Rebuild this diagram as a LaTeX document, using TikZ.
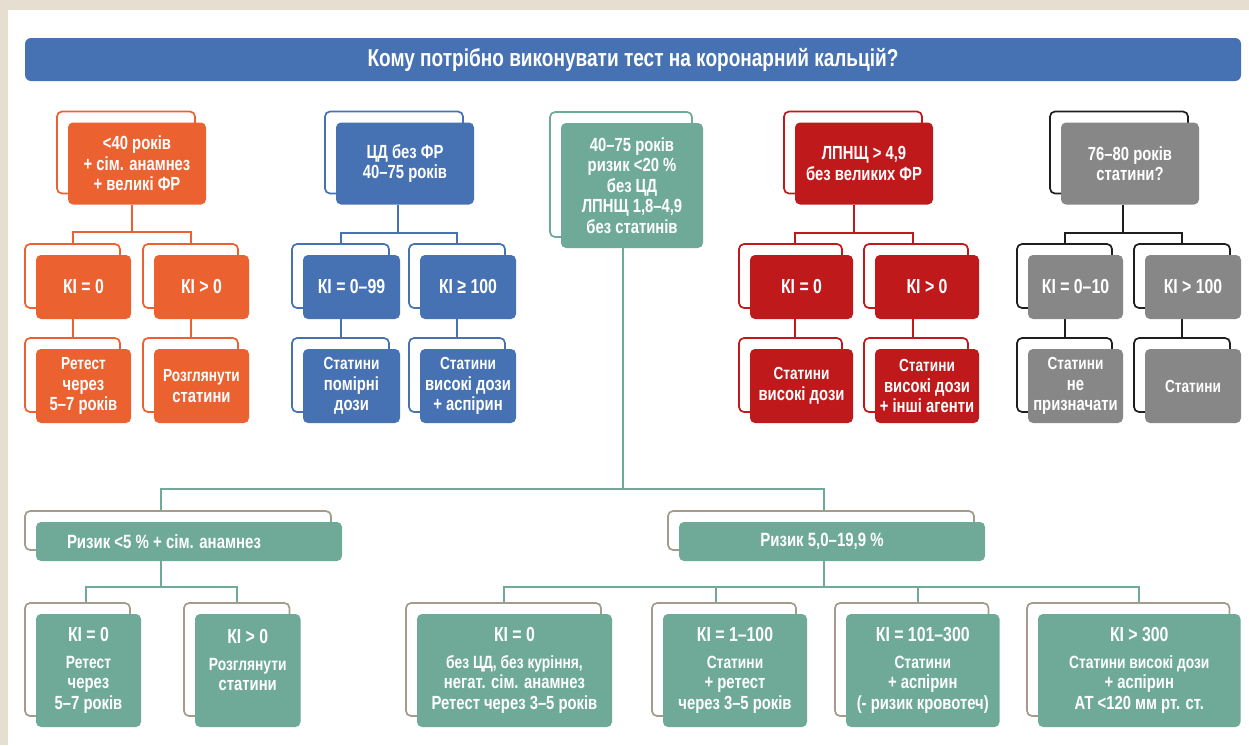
\documentclass[tikz,border=0pt]{standalone}
\usepackage{fontspec}
\setmainfont{Liberation Sans}[FakeStretch=0.78]
\usetikzlibrary{calc}
\pgfdeclarelayer{panel}
\pgfdeclarelayer{under}
\pgfsetlayers{panel,under,main}
\definecolor{cor}{HTML}{EC6130}
\definecolor{cbl}{HTML}{4672B4}
\definecolor{cgr}{HTML}{6FAA99}
\definecolor{cre}{HTML}{C0191C}
\definecolor{cgy}{HTML}{878787}
\definecolor{cdk}{HTML}{1E1E1E}
\definecolor{ctan}{HTML}{A39C8B}
\definecolor{cbg}{HTML}{E7DED2}
\newcommand\fTop{\fontsize{19}{20.5}\selectfont}
\newcommand\fKey{\fontsize{20.3}{22}\selectfont}
\newcommand\fRes{\fontsize{17.5}{20.5}\selectfont}
\newcommand\fMid{\fontsize{19.2}{22}\selectfont}
\newcommand\fBody{\fontsize{17.7}{21}\selectfont}
\tikzset{
  fbox/.style={rounded corners=5pt, text=white, align=center, inner sep=0pt,
    font=\bfseries\fTop},
  obox/.style={rounded corners=5pt, line width=1.7pt, fill=white, inner sep=0pt},
  ln/.style={draw=#1, line width=2pt},
}
\newcommand\bx[8]{%
  \node[fbox, fill=#2, minimum width=#6, minimum height=#7] (#1) at (#4,#5) {#8};
  \begin{pgfonlayer}{under}
    \node[obox, draw=#3, minimum width=#6, minimum height=#7] (#1-bk) at ($(#1.center)+(-11,-11)$) {};
  \end{pgfonlayer}}
\begin{document}
\begin{tikzpicture}[x=1pt,y=-1pt]
\useasboundingbox (0,0) rectangle (1249,745);
\begin{pgfonlayer}{panel}
  \fill[cbg] (0,0) rectangle (1249,745);
  \fill[white] (8,10) rectangle (1249,745);
\end{pgfonlayer}
\node[fill=cbl, rounded corners=6pt, minimum width=1216, minimum height=43, inner sep=0pt,
  text=white, font=\bfseries\fontsize{24.4}{28}\selectfont] (title) at (633,59.5)
  {Кому потрібно виконувати тест на коронарний кальцій?};
% top row
\bx{o1}{cor}{cor}{137}{163.5}{138}{82}{<40 років\\+ сім. анамнез\\+ великі ФР}
\bx{b1}{cbl}{cbl}{405}{163.5}{138}{82}{ЦД без ФР\\40–75 років}
\bx{g1}{cgr}{cgr}{632}{185.5}{142}{125}{40–75 років\\ризик <20 \%\\без ЦД\\ЛПНЩ 1,8–4,9\\без статинів}
\bx{r1}{cre}{cre}{864}{163.5}{138}{82}{ЛПНЩ > 4,9\\без великих ФР}
\bx{k1}{cgy}{cdk}{1130}{163.5}{138}{82}{76–80 років\\статини?}
% level 2
\bx{o2a}{cor}{cor}{83.5}{287}{95}{64}{\fKey КІ = 0}
\bx{o2b}{cor}{cor}{201.5}{287}{95}{64}{\fKey КІ > 0}
\bx{b2a}{cbl}{cbl}{351.5}{287}{97}{64}{\fKey КІ = 0–99}
\bx{b2b}{cbl}{cbl}{468}{287}{96}{64}{\fKey КІ ≥ 100}
\bx{r2a}{cre}{cre}{801.5}{287}{103}{64}{\fKey КІ = 0}
\bx{r2b}{cre}{cre}{927}{287}{104}{64}{\fKey КІ > 0}
\bx{k2a}{cgy}{cdk}{1075.5}{287}{95}{64}{\fKey КІ = 0–10}
\bx{k2b}{cgy}{cdk}{1193}{287}{96}{64}{\fKey КІ > 100}
% level 3
\bx{o3a}{cor}{cor}{83.5}{386}{95}{74}{\fRes Ретест\\через\\5–7 років}
\bx{o3b}{cor}{cor}{201.5}{386}{95}{74}{\fRes Розглянути\\статини}
\bx{b3a}{cbl}{cbl}{351.5}{386}{97}{74}{\fRes Статини\\помірні\\дози}
\bx{b3b}{cbl}{cbl}{468}{386}{96}{74}{\fRes Статини\\високі дози\\+ аспірин}
\bx{r3a}{cre}{cre}{801.5}{386}{103}{74}{\fRes Статини\\високі дози}
\bx{r3b}{cre}{cre}{927}{386}{104}{74}{\fRes Статини\\високі дози\\+ інші агенти}
\bx{k3a}{cgy}{cdk}{1075.5}{386}{95}{74}{\fRes Статини\\не\\призначати}
\bx{k3b}{cgy}{cdk}{1193}{386}{96}{74}{\fRes Статини}
% green lower
\bx{gL}{cgr}{ctan}{189}{541.5}{306}{39}{\fMid Ризик <5 \% + сім. анамнез\hspace*{50pt}}
\bx{gR}{cgr}{ctan}{832}{541.5}{306}{39}{\fMid Ризик 5,0–19,9 \%\hspace*{20pt}}
\bx{gLa}{cgr}{ctan}{88.5}{670.5}{105}{113}{\fKey КІ = 0\\[6pt]\fBody Ретест\\через\\5–7 років}
\bx{gLb}{cgr}{ctan}{247.75}{670.5}{105.5}{113}{\fKey КІ > 0\\[6pt]\fBody Розглянути\\статини\\\mbox{}}
\bx{gRa}{cgr}{ctan}{514.5}{670.5}{195}{113}{\fKey КІ = 0\\[6pt]\fBody без ЦД, без куріння,\\негат. сім. анамнез\\Ретест через 3–5 років}
\bx{gRb}{cgr}{ctan}{735}{670.5}{144}{113}{\fKey КІ = 1–100\\[6pt]\fBody Статини\\+ ретест\\через 3–5 років}
\bx{gRc}{cgr}{ctan}{922.75}{670.5}{153.5}{113}{\fKey КІ = 101–300\\[6pt]\fBody Статини\\+ аспірин\\(- ризик кровотеч)}
\bx{gRd}{cgr}{ctan}{1139.25}{670.5}{202.5}{113}{\fKey КІ > 300\\[6pt]\fBody Статини високі дози\\+ аспірин\\АТ <120 мм рт. ст.}
% connectors
\begin{pgfonlayer}{under}
  % orange
  \draw[ln=cor] ($(o1.south)+(-5,0)$) -- ++(0,27) coordinate (o1m);
  \draw[ln=cor] (o1m) -| (o2a-bk.north);
  \draw[ln=cor] (o1m) -| (o2b-bk.north);
  \draw[ln=cor] (o2a-bk.north |- o2a.south) -- (o3a-bk.north);
  \draw[ln=cor] (o2b-bk.north |- o2b.south) -- (o3b-bk.north);
  % blue
  \draw[ln=cbl] ($(b1.south)+(-7,0)$) -- ++(0,28) coordinate (b1m);
  \draw[ln=cbl] (b1m) -| (b2a-bk.north);
  \draw[ln=cbl] (b1m) -| (b2b-bk.north);
  \draw[ln=cbl] (b2a-bk.north |- b2a.south) -- (b3a-bk.north);
  \draw[ln=cbl] (b2b-bk.north |- b2b.south) -- (b3b-bk.north);
  % red
  \draw[ln=cre] ($(r1.south)+(-10,0)$) -- ++(0,28) coordinate (r1m);
  \draw[ln=cre] (r1m) -| ($(r2a-bk.north)+(4,0)$);
  \draw[ln=cre] (r1m) -| ($(r2b-bk.north)+(-3,0)$);
  \draw[ln=cre] ($(r2a-bk.north |- r2a.south)+(4,0)$) -- ($(r3a-bk.north)+(4,0)$);
  \draw[ln=cre] ($(r2b-bk.north |- r2b.south)+(-3,0)$) -- ($(r3b-bk.north)+(-3,0)$);
  % gray
  \draw[ln=cdk] ($(k1.south)+(-7,0)$) -- ++(0,28) coordinate (k1m);
  \draw[ln=cdk] (k1m) -| (k2a-bk.north);
  \draw[ln=cdk] (k1m) -| (k2b-bk.north);
  \draw[ln=cdk] (k2a-bk.north |- k2a.south) -- (k3a-bk.north);
  \draw[ln=cdk] (k2b-bk.north |- k2b.south) -- (k3b-bk.north);
  % green
  \draw[ln=cgr] ($(g1.south)+(-9,0)$) -- ++(0,241) coordinate (gm);
  \draw[ln=cgr] (gm) -| ($(gL-bk.north)+(-17,0)$);
  \draw[ln=cgr] (gm) -| ($(gR-bk.north)+(3,0)$);
  \draw[ln=cgr] ($(gL.south)+(-28,0)$) -- ++(0,26) coordinate (gLm);
  \draw[ln=cgr] (gLm) -| ($(gLa-bk.north)+(8,0)$);
  \draw[ln=cgr] (gLm) -| (gLb-bk.north);
  \draw[ln=cgr] ($(gR.south)+(-8,0)$) -- ++(0,26) coordinate (gRm);
  \draw[ln=cgr] (gRm) -| (gRa-bk.north);
  \draw[ln=cgr] (gRm) -| ($(gRb-bk.north)+(-8,0)$);
  \draw[ln=cgr] (gRm) -| ($(gRc-bk.north)+(6,0)$);
  \draw[ln=cgr] (gRm) -| ($(gRd-bk.north)+(11,0)$);
\end{pgfonlayer}
\end{tikzpicture}
\end{document}
